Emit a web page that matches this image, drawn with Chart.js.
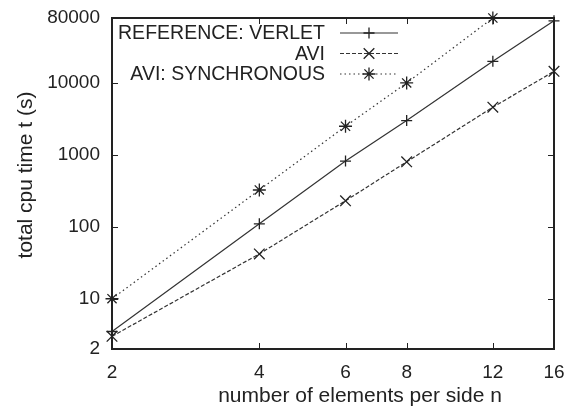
<!DOCTYPE html>
<html>
<head>
<meta charset="utf-8">
<script src="https://cdn.jsdelivr.net/npm/chart.js@4.4.0/dist/chart.umd.min.js"></script>
<style>
html, body { margin: 0; padding: 0; background: #fff; }
#wrap { width: 575px; height: 410px; }
</style>
</head>
<body>
<div id="wrap"><canvas id="chart" width="575" height="410"></canvas></div>
<script>
// Data (log-log plot)
const sizes = [2, 4, 6, 8, 12, 16];
const verletTimes = [3.5, 110, 820, 3000, 20000, 73000];
const aviTimes = [3.0, 42, 230, 800, 4600, 14500];
const syncTimes = [10, 325, 2500, 10000, 80000];
const seriesNames = ['REFERENCE: VERLET', 'AVI', 'AVI: SYNCHRONOUS'];
const xTicks = [2, 4, 6, 8, 12, 16];
const yTicks = [2, 10, 100, 1000, 10000, 80000];
const xTitle = 'number of elements per side n';
const yTitle = 'total cpu time t (s)';

const ink = '#222';
const fontFamily = '"Liberation Sans", Arial, Helvetica, sans-serif';
const tickFont = { family: fontFamily, size: 19 };

function toPoints(values) {
    return values.map((v, i) => ({ x: sizes[i], y: v }));
}

// Draw one of the gnuplot style markers (same geometry as Chart.js)
function drawMarker(ctx, style, x, y, r) {
    const d = r * Math.SQRT1_2;
    ctx.beginPath();
    if (style === 'cross' || style === 'star') {
        ctx.moveTo(x - r, y); ctx.lineTo(x + r, y);
        ctx.moveTo(x, y - r); ctx.lineTo(x, y + r);
    }
    if (style === 'crossRot' || style === 'star') {
        ctx.moveTo(x - d, y - d); ctx.lineTo(x + d, y + d);
        ctx.moveTo(x - d, y + d); ctx.lineTo(x + d, y - d);
    }
    ctx.stroke();
}

// Box with inward ticks on all sides, axis titles and the key
const framePlugin = {
    id: 'frame',
    beforeDatasetsDraw(chart) {
        const { ctx, chartArea: a, scales } = chart;
        ctx.save();
        ctx.strokeStyle = ink;
        ctx.lineWidth = 1;
        const len = 6;
        ctx.beginPath();
        xTicks.slice(1, -1).forEach(v => {
            const px = Math.round(scales.x.getPixelForValue(v)) + 0.5;
            ctx.moveTo(px, a.bottom); ctx.lineTo(px, a.bottom - len);
            ctx.moveTo(px, a.top); ctx.lineTo(px, a.top + len);
        });
        yTicks.slice(1, -1).forEach(v => {
            const py = Math.round(scales.y.getPixelForValue(v)) + 0.5;
            ctx.moveTo(a.left, py); ctx.lineTo(a.left + len, py);
            ctx.moveTo(a.right, py); ctx.lineTo(a.right - len, py);
        });
        ctx.stroke();
        ctx.lineWidth = 2;
        ctx.strokeRect(a.left, a.top, a.right - a.left, a.bottom - a.top);

        // axis titles
        ctx.fillStyle = ink;
        ctx.font = '21px ' + fontFamily;
        ctx.textAlign = 'center';
        ctx.textBaseline = 'middle';
        ctx.fillText(xTitle, 360, 396);
        ctx.translate(26, 175);
        ctx.rotate(-Math.PI / 2);
        ctx.fillText(yTitle, 0, 0);
        ctx.restore();
    },
    afterDatasetsDraw(chart) {
        const { ctx, chartArea: a } = chart;
        ctx.save();
        ctx.font = '19.5px ' + fontFamily;
        ctx.textAlign = 'right';
        ctx.textBaseline = 'middle';
        chart.data.datasets.forEach((ds, i) => {
            const y = a.top + 15 + i * 20.5;
            ctx.fillStyle = ink;
            ctx.fillText(ds.label, a.left + 213, y + 1);
            ctx.strokeStyle = ds.borderColor;
            ctx.lineWidth = ds.borderWidth;
            ctx.setLineDash(ds.borderDash || []);
            ctx.beginPath();
            ctx.moveTo(a.left + 228, y);
            ctx.lineTo(a.left + 286, y);
            ctx.stroke();
            ctx.setLineDash([]);
            ctx.strokeStyle = ink;
            ctx.lineWidth = 1.3;
            drawMarker(ctx, ds.pointStyle, a.left + 257, y, ds.pointRadius);
        });
        ctx.restore();
    }
};

const commonSeries = {
    borderColor: '#333',
    borderWidth: 1.2,
    pointBorderColor: ink,
    pointBackgroundColor: ink,
    pointBorderWidth: 1.3,
    fill: false,
    tension: 0,
    clip: false
};

new Chart(document.getElementById('chart'), {
    type: 'line',
    data: {
        datasets: [
            Object.assign({}, commonSeries, {
                label: seriesNames[0],
                data: toPoints(verletTimes),
                pointStyle: 'cross',
                pointRadius: 5.5
            }),
            Object.assign({}, commonSeries, {
                label: seriesNames[1],
                data: toPoints(aviTimes),
                borderDash: [4, 2],
                pointStyle: 'crossRot',
                pointRadius: 7.5
            }),
            Object.assign({}, commonSeries, {
                label: seriesNames[2],
                data: toPoints(syncTimes),
                borderDash: [1.5, 3],
                pointStyle: 'star',
                pointRadius: 6.5
            })
        ]
    },
    options: {
        responsive: false,
        animation: false,
        devicePixelRatio: 1,
        layout: { padding: { top: 18, right: 21, left: 0, bottom: 0 } },
        plugins: {
            legend: { display: false },
            tooltip: { enabled: false }
        },
        scales: {
            x: {
                type: 'logarithmic',
                position: 'bottom',
                min: 2,
                max: 16,
                afterBuildTicks: s => { s.ticks = xTicks.map(v => ({ value: v })); },
                afterFit: s => { s.height = 61; s.paddingLeft = 0; s.paddingRight = 0; },
                grid: { display: false, drawTicks: false },
                border: { display: false },
                ticks: {
                    autoSkip: false,
                    maxRotation: 0,
                    padding: 12,
                    color: ink,
                    font: tickFont,
                    callback: v => String(v)
                }
            },
            y: {
                type: 'logarithmic',
                position: 'left',
                min: 2,
                max: 80000,
                afterBuildTicks: s => { s.ticks = yTicks.map(v => ({ value: v })); },
                afterFit: s => { s.width = 112; s.paddingTop = 0; s.paddingBottom = 0; },
                grid: { display: false, drawTicks: false },
                border: { display: false },
                ticks: {
                    autoSkip: false,
                    padding: 12,
                    color: ink,
                    font: tickFont,
                    callback: v => String(v)
                }
            }
        }
    },
    plugins: [framePlugin]
});
</script>
</body>
</html>
